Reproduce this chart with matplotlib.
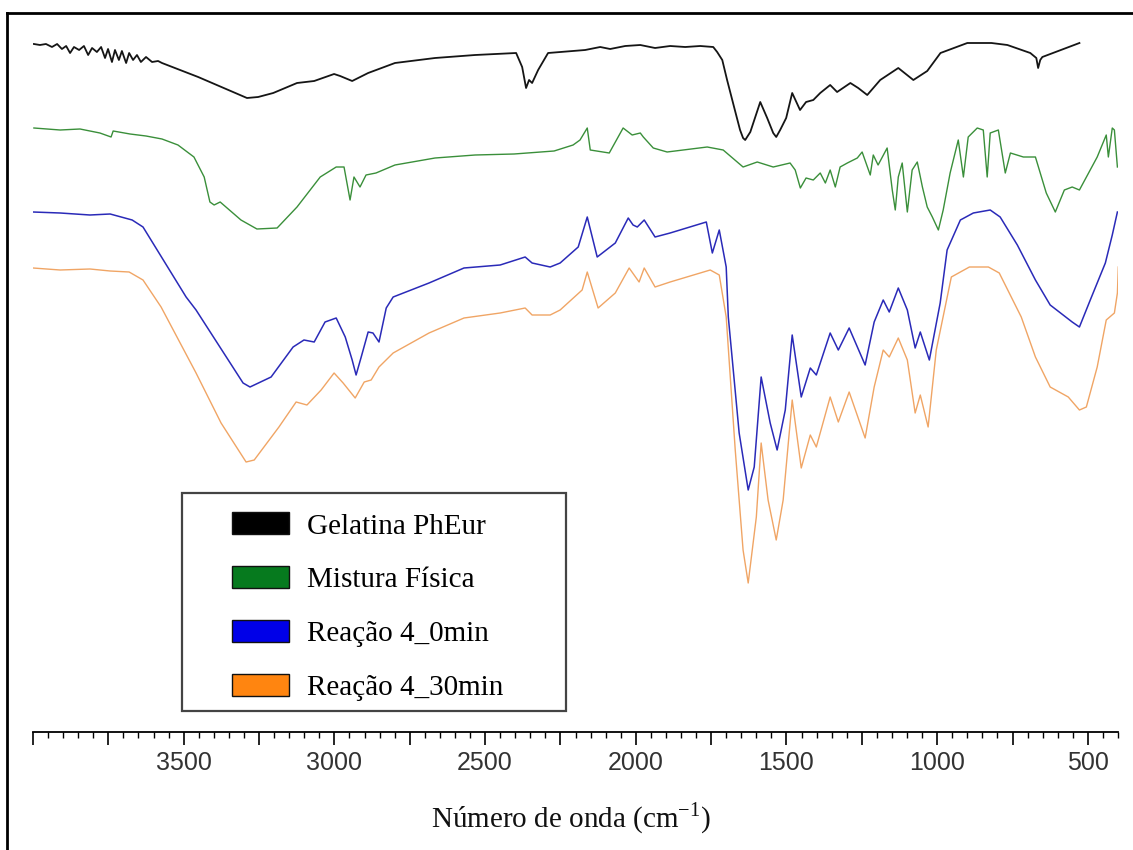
import numpy as np
import matplotlib.pyplot as plt
from matplotlib.patches import Patch, Rectangle
from matplotlib.lines import Line2D
from matplotlib.ticker import MultipleLocator, FuncFormatter

plt.rcParams["mathtext.fontset"] = "custom"
plt.rcParams["mathtext.rm"] = "Liberation Serif"

# FTIR spectra, (wavenumber cm-1, offset transmittance a.u.)
gelatina = [
    (3997, 688), (3977, 687), (3957, 688), (3937, 685), (3920, 688), (3904, 683),
    (3890, 686), (3877, 679), (3864, 685), (3847, 682), (3831, 686), (3817, 677),
    (3804, 684), (3788, 680), (3774, 685), (3761, 674), (3751, 683), (3738, 670),
    (3728, 682), (3715, 672), (3705, 681), (3691, 669), (3681, 679), (3668, 672),
    (3655, 677), (3642, 670), (3625, 675), (3605, 670), (3585, 671), (3572, 669),
    (3452, 655), (3290, 634), (3253, 635), (3203, 639), (3124, 649), (3067, 651),
    (3001, 658), (2981, 656), (2941, 651), (2888, 659), (2799, 669), (2666, 674),
    (2533, 677), (2397, 679), (2377, 665), (2364, 644), (2354, 652), (2344, 649),
    (2324, 662), (2291, 679), (2168, 682), (2118, 685), (2085, 683), (2035, 686),
    (1985, 687), (1936, 684), (1886, 686), (1836, 685), (1786, 686), (1743, 685),
    (1730, 680), (1713, 672), (1697, 652), (1673, 624), (1654, 602), (1644, 594),
    (1637, 592), (1620, 600), (1587, 630), (1564, 614), (1544, 599), (1534, 595),
    (1521, 602), (1501, 614), (1481, 639), (1455, 622), (1435, 630), (1411, 632),
    (1388, 639), (1355, 647), (1332, 640), (1288, 649), (1262, 644), (1232, 637),
    (1189, 652), (1129, 664), (1079, 652), (1033, 661), (989, 679), (900, 689),
    (820, 689), (767, 687), (691, 679), (671, 674), (665, 664), (658, 672),
    (651, 675), (528, 689),
]

mistura = [
    (3997, 604), (3910, 602), (3844, 603), (3778, 599), (3741, 595), (3734, 601),
    (3678, 598), (3625, 596), (3572, 593), (3519, 587), (3466, 575), (3432, 555),
    (3413, 530), (3399, 527), (3379, 530), (3356, 524), (3310, 512), (3257, 503),
    (3190, 504), (3124, 525), (3047, 555), (2994, 565), (2968, 565), (2948, 532),
    (2935, 555), (2915, 545), (2895, 557), (2862, 559), (2799, 567), (2666, 574),
    (2533, 577), (2404, 578), (2271, 581), (2208, 587), (2185, 592), (2161, 604),
    (2151, 582), (2088, 579), (2042, 604), (2012, 597), (1985, 599), (1975, 595),
    (1942, 584), (1896, 580), (1763, 585), (1710, 582), (1644, 565), (1597, 570),
    (1544, 565), (1488, 569), (1471, 562), (1454, 544), (1435, 554), (1411, 552),
    (1388, 559), (1371, 549), (1355, 562), (1338, 545), (1322, 565), (1298, 569),
    (1265, 574), (1249, 580), (1222, 557), (1212, 577), (1196, 567), (1166, 584),
    (1149, 542), (1139, 522), (1129, 555), (1116, 569), (1099, 520), (1083, 562),
    (1066, 570), (1049, 545), (1033, 525), (1016, 515), (996, 502), (980, 522),
    (957, 559), (930, 592), (913, 555), (897, 595), (867, 604), (847, 602),
    (834, 555), (824, 599), (797, 602), (774, 559), (757, 579), (714, 575),
    (674, 575), (638, 539), (608, 520), (578, 542), (552, 545), (528, 542),
    (469, 575), (439, 597), (432, 575), (419, 604), (412, 602), (402, 565),
]

reacao_0 = [
    (4000, 520), (3910, 519), (3811, 517), (3744, 518), (3671, 512), (3635, 505),
    (3588, 482), (3492, 435), (3459, 422), (3303, 349), (3280, 345), (3210, 355),
    (3137, 385), (3101, 392), (3067, 390), (3031, 410), (2994, 414), (2964, 395),
    (2941, 372), (2928, 357), (2911, 375), (2888, 400), (2872, 399), (2852, 390),
    (2828, 424), (2805, 435), (2686, 449), (2570, 464), (2450, 467), (2367, 475),
    (2344, 469), (2284, 465), (2251, 469), (2191, 485), (2161, 515), (2128, 475),
    (2068, 489), (2025, 514), (2009, 507), (1995, 505), (1972, 512), (1936, 495),
    (1886, 499), (1766, 510), (1746, 479), (1723, 502), (1700, 465), (1693, 415),
    (1657, 299), (1627, 242), (1607, 265), (1584, 355), (1554, 309), (1531, 282),
    (1504, 322), (1481, 397), (1451, 335), (1421, 364), (1401, 357), (1355, 399),
    (1328, 382), (1292, 404), (1239, 367), (1209, 410), (1179, 432), (1159, 420),
    (1129, 444), (1099, 422), (1073, 384), (1056, 400), (1026, 372), (990, 429),
    (967, 482), (923, 512), (880, 519), (824, 522), (791, 515), (734, 487),
    (674, 452), (625, 427), (552, 410), (528, 405), (492, 432), (442, 469),
    (419, 497), (402, 520),
]

reacao_30 = [
    (4000, 464), (3910, 462), (3811, 463), (3744, 461), (3681, 460), (3635, 452),
    (3575, 425), (3459, 359), (3376, 309), (3293, 270), (3266, 272), (3184, 305),
    (3127, 330), (3091, 327), (3044, 342), (3001, 359), (2971, 349), (2931, 334),
    (2901, 350), (2878, 352), (2852, 365), (2805, 379), (2686, 399), (2570, 414),
    (2450, 419), (2367, 424), (2344, 417), (2284, 417), (2251, 422), (2178, 442),
    (2161, 460), (2125, 424), (2068, 439), (2022, 464), (1989, 450), (1972, 464),
    (1936, 445), (1886, 450), (1753, 462), (1723, 457), (1700, 415), (1670, 282),
    (1644, 182), (1627, 149), (1600, 215), (1584, 289), (1561, 232), (1534, 192),
    (1511, 232), (1481, 332), (1451, 264), (1421, 297), (1401, 285), (1355, 335),
    (1328, 310), (1292, 340), (1239, 294), (1209, 345), (1179, 382), (1159, 375),
    (1129, 394), (1099, 372), (1073, 319), (1056, 337), (1030, 305), (1003, 382),
    (953, 455), (893, 465), (830, 465), (794, 459), (721, 415), (674, 375),
    (625, 345), (565, 335), (528, 322), (505, 325), (469, 365), (439, 412),
    (412, 419), (402, 439), (399, 465),
]

labels = ["Gelatina PhEur", "Mistura Física", "Reação 4_0min", "Reação 4_30min"]
line_colors = ["#151515", "#3a8f3a", "#2a2ab8", "#f0a565"]
line_widths = [1.3, 1.0, 1.1, 1.0]
patch_colors = ["#000000", "#067a1e", "#0000e8", "#ff8510"]

W, H = 1133, 850
fig = plt.figure(figsize=(W / 100, H / 100), dpi=100)
fig.patch.set_facecolor("white")

ax = fig.add_axes([33 / W, 118 / H, 1085 / W, 702 / H])
for series, color, lw in zip([gelatina, mistura, reacao_0, reacao_30],
                             line_colors, line_widths):
    wn, val = np.array(series).T
    ax.plot(wn, val, color=color, lw=lw)

ax.set_xlim(4000, 400)
ax.set_ylim(0, 702)
for side in ["top", "left", "right"]:
    ax.spines[side].set_visible(False)
ax.spines["bottom"].set_linewidth(1.3)
ax.set_yticks([])
ax.patch.set_alpha(0)

ax.xaxis.set_major_locator(MultipleLocator(250))
ax.xaxis.set_minor_locator(MultipleLocator(50))
ax.xaxis.set_major_formatter(
    FuncFormatter(lambda v, p: f"{v:.0f}" if v % 500 == 0 and v < 4000 else "")
)
ax.tick_params(axis="x", which="major", length=9, width=1.2, direction="out",
               pad=5, labelsize=18, labelcolor="#333333")
ax.tick_params(axis="x", which="minor", length=4.5, width=1.0, direction="out")
for lab in ax.get_xticklabels():
    lab.set_family("Liberation Sans")

fig.text(571 / W, 1 - 818 / H, "Número de onda (cm$^{\\mathrm{-1}}$)",
         ha="center", va="center", fontsize=21, family="Liberation Serif",
         color="#111111")

# legend with its own square frame
handles = [Patch(facecolor=c, edgecolor="#111111", lw=1.0) for c in patch_colors]
fig.add_artist(Rectangle((182 / W, 1 - 711 / H), 384 / W, 218 / H,
                         transform=fig.transFigure, fill=False,
                         edgecolor="#444444", lw=1.6))
fig.legend(handles, labels, loc="upper left",
           bbox_to_anchor=(212 / W, 1 - 492 / H), frameon=False,
           prop={"family": "Liberation Serif", "size": 21},
           handlelength=1.95, handleheight=0.78, handletextpad=0.6,
           labelspacing=0.92, borderpad=0.2)

# outer border of the panel
x0, y0 = 7 / W, 1 - 13 / H
fig.add_artist(Line2D([x0, 1.01], [y0, y0], transform=fig.transFigure,
                      color="black", lw=2.0))
fig.add_artist(Line2D([x0, x0], [y0, -0.01], transform=fig.transFigure,
                      color="black", lw=2.0))

fig.savefig("out.png", dpi=100)
